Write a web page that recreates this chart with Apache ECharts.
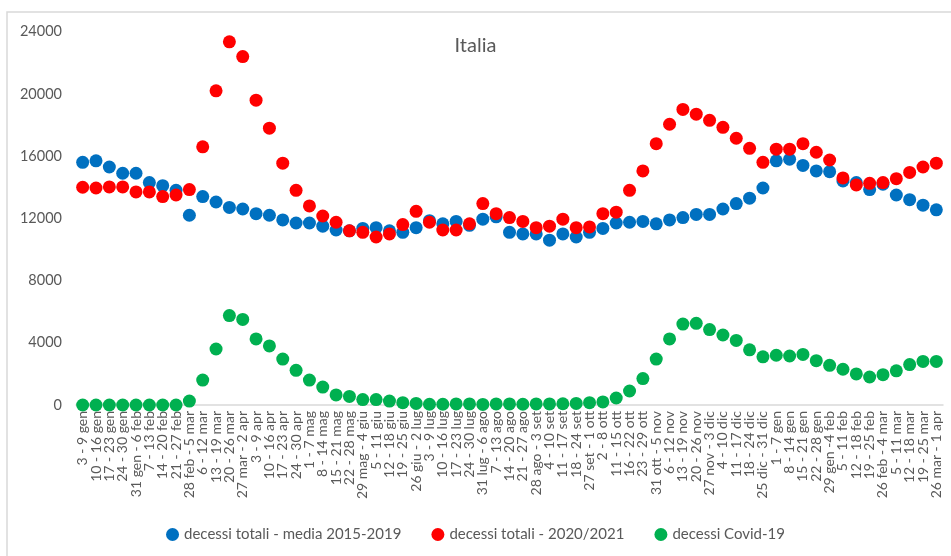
<!DOCTYPE html>
<html><head><meta charset="utf-8">
<script src="https://cdn.jsdelivr.net/npm/echarts@6/dist/echarts.min.js"></script>
<style>html,body{margin:0;padding:0;background:#fff}#c{width:951px;height:556px}</style>
</head><body><div id="c"></div>
<script>
var categories = ["3 - 9 gen","10 - 16 gen","17 - 23 gen","24 - 30 gen","31 gen - 6 feb","7 - 13 feb","14 - 20 feb","21 - 27 feb","28 feb - 5 mar","6 - 12 mar","13 - 19 mar","20 - 26 mar","27 mar - 2 apr","3 - 9 apr","10 - 16 apr","17 - 23 apr","24 - 30 apr","1 - 7 mag","8 - 14 mag","15 - 21 mag","22 - 28 mag","29 mag - 4 giu","5 - 11 giu","12 - 18 giu","19 - 25 giu","26 giu - 2 lug","3 - 9 lug","10 - 16 lug","17 - 23 lug","24 - 30 lug","31 lug - 6 ago","7 - 13 ago","14 - 20 ago","21 - 27 ago","28 ago - 3 set","4 - 10 set","11 - 17 set","18 - 24 set","27 set - 1 ott","2 - 8 ott","11 - 15 ott","16 - 22 ott","23 - 29 ott","31 ott - 5 nov","6 - 12 nov","13 - 19 nov","20 - 26 nov","27 nov - 3 dic","4 - 10 dic","11 - 17 dic","18 - 24 dic","25 dic - 31 dic","1 - 7 gen","8 - 14 gen","15 - 21 gen","22 - 28 gen","29 gen -4 feb","5 - 11 feb","12 - 18 feb","19 - 25 feb","26 feb - 4 mar","5 - 11 mar","12 - 18 mar","19 - 25 mar","26 mar - 1 apr"];
var media20152019 = [15600,15700,15300,14900,14900,14300,14100,13800,12200,13400,13050,12700,12600,12300,12200,11900,11700,11700,11500,11250,11200,11350,11400,11200,11100,11400,11850,11650,11800,11550,11950,12100,11100,11000,11000,10600,11000,10800,11100,11350,11700,11750,11800,11650,11900,12050,12250,12250,12600,12950,13300,13950,15700,15800,15400,15050,15000,14400,14300,13850,14200,13500,13200,12850,12550];
var totali20202021 = [14000,13950,14020,14020,13700,13700,13400,13500,13850,16600,20200,23350,22400,19600,17800,15550,13800,12800,12150,11750,11200,11100,10800,11000,11600,12450,11750,11250,11250,11650,12950,12300,12050,11800,11400,11500,11950,11400,11450,12300,12400,13800,15050,16800,18050,19000,18700,18300,17850,17150,16500,15600,16450,16450,16800,16250,15750,14600,14150,14250,14300,14550,14950,15300,15550];
var covid19 = [0,0,0,0,0,0,0,0,250,1600,3600,5750,5500,4250,3800,2950,2230,1600,1150,650,550,350,350,250,150,100,50,50,70,70,40,70,70,50,70,70,80,100,150,200,450,900,1700,2950,4250,5200,5250,4850,4500,4150,3550,3100,3200,3150,3250,2850,2550,2300,2000,1800,1950,2200,2600,2800,2800];
var yTicks = [0,4000,8000,12000,16000,20000,24000];
var seriesNames = ["decessi totali - media 2015-2019","decessi totali - 2020/2021","decessi Covid-19"];

var txt = '#595959';
var font = 'Lato';
var chart = echarts.init(document.getElementById('c'));
chart.setOption({
  animation:false,
  textStyle:{fontFamily:font},
  graphic:[{type:'rect',shape:{x:7,y:12,width:960,height:560},style:{fill:'none',stroke:'#d9d9d9',lineWidth:1.5},z:-1}],
  title:{text:'Italia',left:'center',top:31,textStyle:{color:txt,fontSize:20,fontWeight:'normal',fontFamily:font}},
  legend:{bottom:9,left:'center',itemGap:30,itemWidth:13,itemHeight:13,icon:'circle',
    textStyle:{color:txt,fontSize:15,fontFamily:font},data:seriesNames},
  grid:{left:76,right:8,top:31.7,bottom:151},
  xAxis:{type:'category',data:categories,boundaryGap:true,
    axisLine:{lineStyle:{color:'#d9d9d9',width:1.5}},axisTick:{show:false},
    axisLabel:{rotate:90,interval:0,color:txt,fontSize:14,fontFamily:font,margin:6}},
  yAxis:{type:'value',min:0,max:24000,interval:4000,
    axisLine:{show:false},axisTick:{show:false},splitLine:{show:false},
    axisLabel:{color:txt,fontSize:14.5,fontFamily:font,margin:14,
      formatter:function(v){return yTicks.indexOf(v)>=0?String(v):'';}}},
  series:[
    {name:seriesNames[0],type:'scatter',data:media20152019,symbolSize:13,itemStyle:{color:'#0070C0',opacity:1},z:2},
    {name:seriesNames[1],type:'scatter',data:totali20202021,symbolSize:13,itemStyle:{color:'#FF0000',opacity:1},z:3},
    {name:seriesNames[2],type:'scatter',data:covid19,symbolSize:13,itemStyle:{color:'#00B050',opacity:1},z:4}
  ]
});
</script></body></html>
